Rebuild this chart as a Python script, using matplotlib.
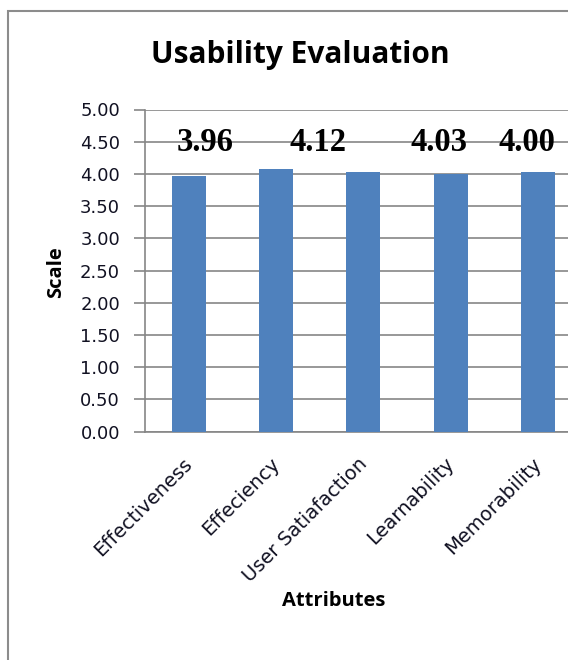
# usability evaluation bar chart

import matplotlib.pyplot as plt
import matplotlib.transforms as mtransforms
from matplotlib.patches import Rectangle

attributes = ["Effectiveness", "Effeciency", "User Satiafaction", "Learnability", "Memorability"]
scores = [3.97, 4.07, 4.03, 4.00, 4.03]

# value labels as they appear (placed as free text above the bars)
label_texts = ["3.96", "4.12", "4.03", "4.00"]
label_x = [0.19, 1.48, 2.87, 3.87]
label_y = 4.49

plt.rcParams['font.family'] = ['DejaVu Sans']

fig = plt.figure(figsize=(5.68, 6.60), dpi=100)
W, H = 568, 660

# outer chart frame (cropped on the right and bottom)
fig.patches.append(Rectangle((8 / W, -0.1), 1.2, 1 - 11 / H + 0.1, transform=fig.transFigure,
                             fill=False, edgecolor='#8c8c8c', linewidth=1.5))

# plot area; extends past the right edge like the original
left, right = 145, 581.5
top, bottom = 109.5, 431.7
ax = fig.add_axes([left / W, 1 - bottom / H, (right - left) / W, (bottom - top) / H])

x = range(len(attributes))
ax.bar(x, scores, width=0.39, color='#4F81BD', zorder=3)

ax.set_xlim(-0.5, 4.5)
ax.set_ylim(0, 5)
ax.set_yticks([i * 0.5 for i in range(11)])
ax.set_yticklabels([f"{i * 0.5:.2f}" for i in range(11)], fontsize=13, color='#111122')
ax.yaxis.grid(True, color='#868686', linewidth=1.2, zorder=0)
ax.set_axisbelow(True)
ax.tick_params(axis='y', length=8, width=1.2, color='#868686', pad=10)
ax.tick_params(axis='x', length=0, pad=16)

ax.set_xticks(list(x))
ax.set_xticklabels(attributes, rotation=45, ha='right', rotation_mode='anchor',
                   fontsize=14, color='#111122')
shift = mtransforms.ScaledTranslation(-6 / 100, 0, fig.dpi_scale_trans)
for lab in ax.get_xticklabels():
    lab.set_transform(lab.get_transform() + shift)

for sp in ['top', 'right']:
    ax.spines[sp].set_visible(False)
for sp in ['left', 'bottom']:
    ax.spines[sp].set_color('#868686')
    ax.spines[sp].set_linewidth(1.2)

for t, lx in zip(label_texts, label_x):
    ax.text(lx, label_y, t, ha='center', va='center', fontsize=23.5,
            fontweight='bold', family='Liberation Serif')

fig.text(300 / W, 1 - 55 / H, "Usability Evaluation", ha='center', va='center',
         fontsize=21.5, fontweight='bold', family='Open Sans')
fig.text(56 / W, 1 - 272 / H, "Scale", ha='center', va='center', rotation=90,
         fontsize=14.5, fontweight='bold', family='Open Sans')
fig.text(334 / W, 1 - 601 / H, "Attributes", ha='center', va='center',
         fontsize=14.5, fontweight='bold', family='Open Sans')

fig.savefig("out.png", dpi=100)
